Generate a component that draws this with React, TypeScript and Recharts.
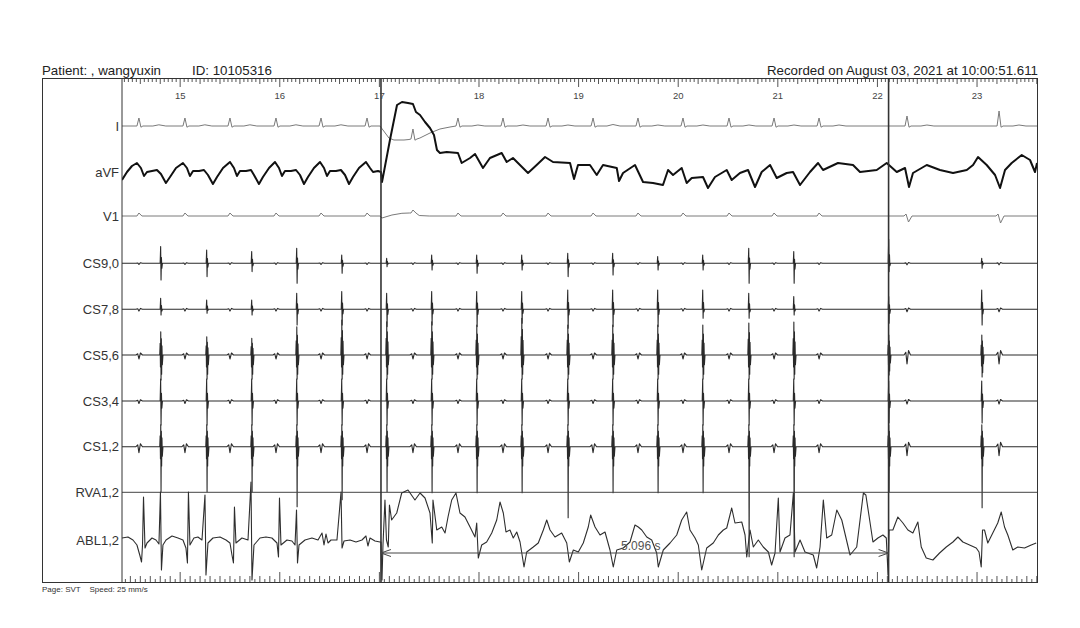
import { ComposedChart, Line, XAxis, YAxis, ReferenceLine, Label } from 'recharts';

// time window of the page (s)
const T0 = 14.416;
const T1 = 23.602;

const secondLabels = [15, 16, 17, 18, 19, 20, 21, 22, 23];

const channels = ['I', 'aVF', 'V1', 'CS9,0', 'CS7,8', 'CS5,6', 'CS3,4', 'CS1,2', 'RVA1,2', 'ABL1,2'];
const channelBase = [-4.8, -9.4, -13.8, -18.53, -23.13, -27.7, -32.3, -36.87, -41.43, -46.2];

// calipers (s)
const caliperStart = 17.016;
const caliperEnd = 22.112;
const caliperText = '5.096 s';

// ventricular beats (surface QRS) and CS atrial electrograms, seconds
const vBeats = [14.586, 15.048, 15.5, 15.962, 16.414, 16.876, 17.337, 17.789, 18.241, 18.693, 19.145, 19.596, 20.048, 20.51, 20.962, 21.414, 22.297, 23.221];
const aBeats = [14.807, 15.269, 15.721, 16.173, 16.625, 17.076, 17.528, 17.98, 18.432, 18.894, 19.345, 19.797, 20.249, 20.711, 21.163, 22.116, 23.05];

// lead I
const iAmp = [0.8, 0.8, 0.8, 0.8, 0.8, 0.8, 1.0, 0.8, 0.8, 0.8, 0.8, 0.8, 0.8, 0.8, 0.8, 0.8, 1.0, 1.5];
const iBase = [0, 0, 0, 0, 0, 0, -1.3, 0, 0, 0, 0, 0, 0, 0, 0, 0, 0, 0];
const iTwave = [0.12, 0.12, 0.12, 0.12, 0.12, 0, 0, 0.1, 0.1, 0.1, 0.15, 0.1, 0.1, 0.1, 0.1, 0.1, 0.1, 0.1];
const iDrift = [[T0, 0], [17.006, 0], [17.036, -0.4], [17.096, -1.2], [17.146, -1.4], [17.247, -1.4], [17.297, -1.35], [17.407, -1.2], [17.508, -0.7], [17.608, -0.3], [17.709, -0.1], [T1, 0]];

// V1
const v1Amp = [0.3, 0.3, 0.3, 0.3, 0.3, 0.3, 0.3, 0.3, 0.3, 0.3, 0.3, 0.3, 0.3, 0.3, 0.3, 0.3, -0.6, -0.7];
const v1Base = [0, 0, 0, 0, 0, 0, 0.3, 0, 0, 0, 0, 0, 0, 0, 0, 0, 0, 0];
const v1Drift = [[T0, 0], [17.006, 0], [17.026, -0.2], [17.126, 0.1], [17.226, 0.27], [17.3, 0.3], [17.4, 0.05], [17.5, 0], [T1, 0]];

// aVF, read point by point (t, mV)
const avfTrace = [
  [14.416, -0.8], [14.466, 0], [14.516, 0.6], [14.566, 0.9], [14.606, 0.4], [14.637, -0.4], [14.667, 0], [14.717, 0.1], [14.767, 0.2], [14.807, -0.2],
  [14.857, -1.1], [14.898, -0.5], [14.958, 0.4], [15.028, 0.9], [15.068, 0.4], [15.098, -0.4], [15.129, 0.1], [15.189, 0.1], [15.239, 0.2], [15.279, -0.3],
  [15.329, -1.2], [15.37, -0.5], [15.43, 0.4], [15.5, 1.0], [15.54, 0.4], [15.57, -0.4], [15.6, 0.1], [15.661, 0.1], [15.711, 0.2], [15.741, -0.3],
  [15.791, -1.2], [15.831, -0.5], [15.892, 0.4], [15.952, 1.0], [15.992, 0.4], [16.022, -0.4], [16.052, 0.1], [16.112, 0.1], [16.163, 0.2], [16.203, -0.3],
  [16.243, -1.2], [16.283, -0.5], [16.343, 0.4], [16.404, 1.0], [16.444, 0.4], [16.474, -0.4], [16.504, 0.1], [16.564, 0.1], [16.614, 0.2], [16.655, -0.3],
  [16.695, -1.2], [16.735, -0.5], [16.795, 0.4], [16.865, 1.0], [16.906, 0.4], [16.936, 0], [16.986, 0.1], [17.016, 0],
  [17.026, -1.0], [17.036, -0.5], [17.106, 3.2], [17.177, 6.7], [17.227, 7.0], [17.287, 6.9], [17.337, 6.8], [17.367, 6.0], [17.408, 5.7], [17.458, 5.0],
  [17.508, 4.4], [17.548, 3.7], [17.578, 2.2], [17.608, 1.9], [17.676, 2.0], [17.789, 1.9], [17.826, 0.9], [17.91, 1.4], [17.96, 1.8], [18.04, 0.4],
  [18.11, 1.4], [18.228, 1.9], [18.278, 1.0], [18.341, 1.4], [18.492, -0.1], [18.579, 0.7], [18.663, 1.5], [18.743, 1.0], [18.914, 0.9], [18.954, -0.7],
  [18.994, 0.7], [19.114, 0.7], [19.182, -0.3], [19.245, 0.7], [19.383, 0.4], [19.406, -0.9], [19.446, -0.1], [19.566, 0.7], [19.647, -1.0], [19.747, -1.1],
  [19.847, -1.3], [19.898, 0.2], [19.948, -0.3], [20.035, 0.4], [20.085, -1.1], [20.136, -0.6], [20.249, -0.5], [20.299, -1.6], [20.369, -0.5], [20.487, 0.2],
  [20.537, -0.8], [20.62, -0.1], [20.701, 0.2], [20.771, -1.5], [20.838, 0], [20.922, 0.7], [20.989, -0.6], [21.089, -0.1], [21.153, 0], [21.223, -1.3],
  [21.323, 0], [21.404, 0.9], [21.454, 0.2], [21.604, 0.9], [21.755, 0.7], [21.825, 0], [21.993, 0.2], [22.093, 0.9], [22.194, 0], [22.277, 0.4],
  [22.317, -1.5], [22.357, -0.1], [22.495, 0.7], [22.628, 0.2], [22.759, -0.1], [22.897, 0.2], [22.96, 0.7], [23.01, 1.5], [23.097, 0.7], [23.181, -0.3],
  [23.231, -1.6], [23.281, 0.2], [23.348, 0.9], [23.449, 1.7], [23.532, 1.2], [23.582, 0], [23.602, 0.9],
];

// coronary sinus bipoles: spike up / down (mV) per atrial beat, far-field per ventricular beat
const cs90Up = [1.67, 1.33, 1.17, 1.5, 0.83, 0.5, 0.83, 0.83, 0.83, 1.0, 1.0, 0.67, 0.83, 1.5, 1.17, 2.4, 0.5];
const cs90Down = [1.67, 1.33, 0.83, 2.0, 1.0, 0.33, 0.67, 1.0, 0.67, 1.33, 1.17, 0.67, 0.67, 2.0, 2.0, 0.83, 0.5];
const cs90Far = [0.12, 0.12, 0.12, 0.12, 0.12, 0.12, 0.12, 0.12, 0.12, 0.12, 0.12, 0.12, 0.12, 0.12, 0.12, 0.12, 0.15, 0.15];

const cs78Up = [1.1, 0.93, 0.93, 1.6, 1.77, 1.6, 1.77, 1.77, 1.77, 1.93, 1.93, 1.93, 1.93, 1.6, 1.27, 1.27, 1.93];
const cs78Down = [0.57, 0.4, 0.57, 1.57, 1.57, 1.73, 1.57, 1.73, 1.4, 1.9, 1.73, 1.73, 0.9, 0.9, 0.57, 1.4, 1.57];
const cs78Far = [0.18, 0.18, 0.18, 0.18, 0.18, 0.18, 0.18, 0.18, 0.18, 0.18, 0.18, 0.18, 0.18, 0.18, 0.18, 0.18, 0.25, 0.25];

const cs56Up = [2.33, 1.83, 1.67, 2.83, 3.5, 3.33, 3.33, 3.0, 3.67, 3.0, 3.0, 3.0, 3.0, 3.2, 3.3, 2.0, 2.0];
const cs56Down = [2.5, 2.4, 2.4, 2.4, 2.4, 2.4, 2.4, 2.4, 2.4, 2.4, 2.4, 2.4, 2.4, 2.4, 2.4, 2.0, 2.2];
const cs56Far = [0.4, 0.4, 0.4, 0.4, 0.4, 0.4, 0.4, 0.4, 0.4, 0.4, 0.4, 0.4, 0.4, 0.4, 0.4, 0.4, 0.9, 0.9];

const cs34Up = [2.2, 2.2, 2.2, 2.2, 2.2, 2.2, 2.2, 2.2, 2.2, 2.2, 2.2, 2.2, 2.2, 2.2, 2.2, 2.0, 2.0];
const cs34Down = [2.4, 2.4, 2.4, 2.4, 2.4, 2.4, 2.4, 2.4, 2.4, 2.4, 2.4, 2.4, 2.4, 2.4, 2.4, 2.2, 2.2];
const cs34Far = [0.25, 0.25, 0.25, 0.25, 0.25, 0.25, 0.25, 0.25, 0.25, 0.25, 0.25, 0.25, 0.25, 0.25, 0.25, 0.25, 0.3, 0.3];

const cs12Up = [2.2, 2.2, 2.2, 2.2, 2.2, 2.2, 2.2, 2.2, 2.2, 2.2, 2.2, 2.2, 2.2, 2.2, 2.2, 2.2, 2.2];
const cs12Down = [4.5, 4.5, 4.5, 6.0, 5.3, 4.5, 4.6, 4.6, 4.6, 7.1, 4.6, 4.6, 4.6, 11.0, 11.0, 4.5, 6.1];
const cs12Far = [0.6, 0.6, 0.6, 0.6, 0.6, 0.6, 0.6, 0.6, 0.6, 0.6, 0.6, 0.6, 0.6, 0.6, 0.6, 0.6, 0.9, 0.9];

// ablation catheter, read point by point (t, mV)
const ablTrace = [
  [14.416, 0.2], [14.476, 0.3], [14.526, 0], [14.566, -0.5], [14.597, -1.6], [14.612, -2.2], [14.622, -0.5], [14.632, 4.3], [14.647, -0.8], [14.667, -0.3],
  [14.717, 0.2], [14.757, 0], [14.787, -0.4], [14.802, 4.8], [14.812, -3.0], [14.827, -0.5], [14.858, 0], [14.918, 0.4], [14.978, 0.2], [15.028, 0],
  [15.058, -0.8], [15.073, -2.3], [15.083, 4.8], [15.098, -0.5], [15.138, 0.2], [15.178, 0.3], [15.219, 0], [15.249, 4.5], [15.259, -3.5], [15.279, -0.3],
  [15.329, 0.2], [15.4, 0.3], [15.46, 0], [15.5, -0.3], [15.52, -1.5], [15.535, -2.3], [15.545, 3.3], [15.56, -0.3], [15.62, 0.2], [15.681, 0],
  [15.711, 5.8], [15.721, -4.0], [15.741, -0.5], [15.801, 0.2], [15.861, 0.3], [15.921, 0.2], [15.972, -0.3], [15.987, -1.7], [15.997, 4.2], [16.012, -0.5],
  [16.072, 0], [16.122, -0.1], [16.153, -0.5], [16.168, 3.0], [16.178, -2.3], [16.193, -0.5], [16.253, 0], [16.323, 0.2], [16.384, 0], [16.424, 0.7],
  [16.444, -0.5], [16.464, 0.6], [16.484, -0.3], [16.514, 0], [16.574, 0], [16.615, 4.8], [16.625, -0.8], [16.645, -0.1], [16.705, 0], [16.765, -0.2],
  [16.825, 0], [16.865, 0.4], [16.885, -0.6], [16.906, 0.2], [16.956, -0.1], [17.006, -0.2],
  [17.016, -0.2], [17.026, -4.0], [17.036, -0.5], [17.056, 4.0], [17.071, 0], [17.089, -0.7], [17.101, 3.5], [17.123, 2.0], [17.174, 2.7], [17.224, 4.7],
  [17.287, 5.0], [17.357, 4.0], [17.408, 4.7], [17.458, 4.2], [17.508, 2.7], [17.531, -0.3], [17.538, 4.0], [17.576, 1.0], [17.626, 1.3], [17.659, 0.7],
  [17.689, 2.3], [17.726, 4.0], [17.769, 4.7], [17.809, 2.7], [17.859, 2.3], [17.91, 1.3], [17.96, 0.3], [17.977, 1.7], [17.993, -1.8], [18.027, -0.5],
  [18.077, -0.2], [18.128, 0.7], [18.178, 2.0], [18.211, 3.8], [18.244, 2.7], [18.271, 0.8], [18.311, 1.0], [18.344, 0.2], [18.379, 0.8], [18.412, -0.2],
  [18.452, -2.7], [18.479, -1.2], [18.545, -0.7], [18.595, -0.3], [18.646, 1.0], [18.68, 2.0], [18.713, 1.0], [18.763, 0.3], [18.83, 0.7], [18.881, -0.3],
  [18.907, -2.2], [18.947, -1.0], [18.997, -1.2], [19.047, -0.3], [19.097, 1.3], [19.121, 2.5], [19.165, 1.3], [19.215, 0.5], [19.265, 0.8], [19.315, -1.0],
  [19.348, -2.7], [19.383, -1.0], [19.449, -0.8], [19.516, -0.2], [19.566, 1.5], [19.599, 1.3], [19.634, 1.0], [19.684, 0.3], [19.734, 0], [19.784, -1.3],
  [19.8, -2.7], [19.85, -1.0], [19.918, -0.3], [19.985, 0.5], [20.035, 2.0], [20.085, 2.8], [20.118, 1.0], [20.169, 0.2], [20.202, -0.5], [20.236, -3.0],
  [20.286, -0.8], [20.352, -0.3], [20.403, 0.5], [20.453, 1.0], [20.487, 1.2], [20.537, 3.2], [20.57, 1.7], [20.638, 1.8], [20.671, 0.5], [20.688, -1.7],
  [20.721, 1.0], [20.754, -0.7], [20.804, 0], [20.854, -0.7], [20.905, -1.2], [20.938, -2.5], [20.972, -1.3], [21.005, 4.2], [21.022, -1.2], [21.072, 0.2],
  [21.122, 0.5], [21.156, 4.7], [21.173, -1.2], [21.223, 0], [21.273, -1.2], [21.356, -1.5], [21.39, -2.8], [21.424, -0.7], [21.457, 4.0], [21.491, 0.2],
  [21.541, 0.5], [21.592, 3.0], [21.642, 2.0], [21.725, -1.5], [21.792, -0.7], [21.859, 4.7], [21.884, 4.5], [21.922, 2.0], [21.955, -0.2], [22.005, 0.2],
  [22.055, 0.5], [22.089, 0.2], [22.107, -3.5], [22.117, 1.0], [22.155, 1.0], [22.205, 2.3], [22.256, 1.7], [22.306, 1.0], [22.356, 0.7], [22.406, 1.8],
  [22.44, -0.7], [22.49, -1.8], [22.557, -2.0], [22.624, -1.3], [22.691, -0.7], [22.758, -0.2], [22.808, 0.3], [22.858, -0.2], [22.925, -0.5], [22.992, -0.8],
  [23.02, -1.2], [23.042, -2.7], [23.055, 1.0], [23.075, 1.0], [23.108, -0.3], [23.158, 0.7], [23.208, 1.7], [23.243, 2.8], [23.276, 1.3], [23.309, 0.5],
  [23.359, -1.0], [23.409, -0.7], [23.477, -0.8], [23.544, -0.5], [23.594, -0.3],
];

const PLOT_TOP = 78;
const PLOT_BOTTOM = 582;

type Pt = { t: number; v: number };

const toSeries = (pts: number[][], base: number): Pt[] =>
  pts
    .slice()
    .sort((a, b) => a[0] - b[0])
    .map(([t, v]) => ({ t, v: base + v }));

function leadI(): number[][] {
  const pts: number[][] = [...iDrift];
  vBeats.forEach((t, i) => {
    const b = iBase[i];
    pts.push([t - 0.02, b], [t, b + iAmp[i]], [t + 0.02, b - 0.12], [t + 0.04, b]);
    if (iTwave[i]) pts.push([t + 0.14, b], [t + 0.2, b + iTwave[i]], [t + 0.27, b]);
  });
  return pts;
}

function leadV1(): number[][] {
  const pts: number[][] = [...v1Drift];
  vBeats.forEach((t, i) => {
    const b = v1Base[i];
    const a = v1Amp[i];
    if (a >= 0) pts.push([t - 0.02, b], [t, b + a], [t + 0.03, b]);
    else pts.push([t - 0.03, b], [t - 0.01, b + 0.2], [t + 0.015, b + a], [t + 0.05, b]);
  });
  return pts;
}

function csLead(up: number[], down: number[], far: number[], thick: boolean): number[][] {
  const pts: number[][] = [[T0, 0], [T1, 0]];
  aBeats.forEach((t, i) => {
    const u = up[i];
    const d = down[i];
    if (thick) {
      const c = Math.min(d, 2.4);
      pts.push(
        [t - 0.012, 0], [t - 0.008, u * 0.5], [t - 0.005, -c * 0.5], [t - 0.002, u], [t + 0.001, -d],
        [t + 0.004, u * 0.7], [t + 0.007, -c * 0.8], [t + 0.01, u * 0.4], [t + 0.014, -c * 0.4], [t + 0.02, 0],
      );
    } else {
      pts.push([t - 0.008, 0], [t - 0.003, u], [t + 0.001, -d], [t + 0.005, u * 0.35], [t + 0.009, -d * 0.3], [t + 0.015, 0]);
    }
  });
  vBeats.forEach((t, i) => {
    const a = far[i];
    pts.push([t - 0.03, 0], [t - 0.012, a * 0.3], [t, -a], [t + 0.015, a * 0.5], [t + 0.035, 0]);
  });
  return pts;
}

const series = [
  { name: 'I', data: toSeries(leadI(), channelBase[0]), color: '#7a7a7a', width: 1 },
  { name: 'aVF', data: toSeries(avfTrace, channelBase[1]), color: '#111', width: 2 },
  { name: 'V1', data: toSeries(leadV1(), channelBase[2]), color: '#7a7a7a', width: 1 },
  { name: 'CS9,0', data: toSeries(csLead(cs90Up, cs90Down, cs90Far, false), channelBase[3]), color: '#2a2a2a', width: 1.1 },
  { name: 'CS7,8', data: toSeries(csLead(cs78Up, cs78Down, cs78Far, false), channelBase[4]), color: '#2a2a2a', width: 1.1 },
  { name: 'CS5,6', data: toSeries(csLead(cs56Up, cs56Down, cs56Far, true), channelBase[5]), color: '#2a2a2a', width: 1.1 },
  { name: 'CS3,4', data: toSeries(csLead(cs34Up, cs34Down, cs34Far, false), channelBase[6]), color: '#2a2a2a', width: 1.1 },
  { name: 'CS1,2', data: toSeries(csLead(cs12Up, cs12Down, cs12Far, true), channelBase[7]), color: '#2a2a2a', width: 1.1 },
  { name: 'RVA1,2', data: toSeries([[T0, 0], [T1, 0]], channelBase[8]), color: '#444', width: 1 },
  { name: 'ABL1,2', data: toSeries(ablTrace, channelBase[9]), color: '#2e2e2e', width: 1.1 },
];

// caliper sits just under the ABL baseline
const caliperY = channelBase[9] - 1.3;
const arrowLeft = [
  { t: caliperStart + 0.1, v: caliperY + 0.35 },
  { t: caliperStart, v: caliperY },
  { t: caliperStart + 0.1, v: caliperY - 0.35 },
];
const arrowRight = [
  { t: caliperEnd - 0.1, v: caliperY + 0.35 },
  { t: caliperEnd, v: caliperY },
  { t: caliperEnd - 0.1, v: caliperY - 0.35 },
];

const topTicks = Array.from({ length: 230 }, (_, i) => Math.round((14.44 + i * 0.04) * 1000) / 1000);
const bottomTicks = Array.from({ length: 184 }, (_, i) => Math.round((14.45 + i * 0.05) * 1000) / 1000);

const font = 'Liberation Sans, Arial, Helvetica, sans-serif';

const TopTick = (props: any) => {
  const { x, payload } = props;
  const ms = Math.round(payload.value * 1000);
  const sec = ms % 1000 === 0;
  const len = sec ? 9 : ms % 200 === 0 ? 6 : 4;
  return (
    <g>
      <line x1={x} x2={x} y1={PLOT_TOP} y2={PLOT_TOP + len} stroke="#555" strokeWidth={1} />
      {sec && secondLabels.includes(ms / 1000) && (
        <text x={x} y={PLOT_TOP + 21} textAnchor="middle" fontSize={9.5} fill="#444" fontFamily={font}>
          {ms / 1000}
        </text>
      )}
    </g>
  );
};

const BottomTick = (props: any) => {
  const { x, payload } = props;
  const ms = Math.round(payload.value * 1000);
  const len = ms % 1000 === 0 ? 10 : ms % 100 === 0 ? 6 : 3;
  return <line x1={x} x2={x} y1={PLOT_BOTTOM} y2={PLOT_BOTTOM - len} stroke="#555" strokeWidth={1} />;
};

export default function App() {
  return (
    <div style={{ position: 'absolute', left: 0, top: 0, width: 1080, height: 628, background: '#fff', fontFamily: font }}>
      <div style={{ position: 'absolute', left: 42, top: 63, fontSize: 13.3, color: '#222', lineHeight: '15px' }}>Patient: , wangyuxin</div>
      <div style={{ position: 'absolute', left: 192, top: 63, fontSize: 13.3, color: '#222', lineHeight: '15px' }}>ID: 10105316</div>
      <div style={{ position: 'absolute', right: 1080 - 1038, top: 63, fontSize: 13.3, color: '#222', lineHeight: '15px' }}>
        Recorded on August 03, 2021 at 10:00:51.611
      </div>
      <div style={{ position: 'absolute', left: 42, top: 585, fontSize: 8, color: '#333', whiteSpace: 'pre', lineHeight: '10px' }}>
        {'Page: SVT    Speed: 25 mm/s'}
      </div>
      <ComposedChart width={1080} height={628} margin={{ top: 48, right: 43, bottom: 16, left: 42 }}>
        <XAxis
          xAxisId="top"
          orientation="top"
          type="number"
          dataKey="t"
          domain={[T0, T1]}
          allowDataOverflow
          ticks={topTicks}
          interval={0}
          height={30}
          axisLine={false}
          tickLine={false}
          tick={<TopTick />}
        />
        <XAxis
          xAxisId="bottom"
          orientation="bottom"
          type="number"
          dataKey="t"
          domain={[T0, T1]}
          allowDataOverflow
          ticks={bottomTicks}
          interval={0}
          height={30}
          axisLine={false}
          tickLine={false}
          tick={<BottomTick />}
        />
        <YAxis
          type="number"
          domain={[-50.4, 0]}
          allowDataOverflow
          ticks={channelBase}
          interval={0}
          width={80}
          tickSize={0}
          tickMargin={3}
          axisLine={{ stroke: '#333', strokeWidth: 1 }}
          tickLine={false}
          tick={{ fontSize: 13, fill: '#333', fontFamily: font }}
          tickFormatter={(v: number) => channels[channelBase.indexOf(v)] ?? ''}
        />
        {series.map((s) => (
          <Line
            key={s.name}
            xAxisId="bottom"
            data={s.data}
            dataKey="v"
            type="linear"
            stroke={s.color}
            strokeWidth={s.width}
            strokeLinejoin="round"
            dot={false}
            activeDot={false}
            isAnimationActive={false}
          />
        ))}
        <ReferenceLine xAxisId="bottom" x={caliperStart} stroke="#333" strokeWidth={1.6} />
        <ReferenceLine xAxisId="bottom" x={caliperEnd} stroke="#333" strokeWidth={1.6} />
        <ReferenceLine
          xAxisId="bottom"
          segment={[{ x: caliperStart, y: caliperY }, { x: caliperEnd, y: caliperY }]}
          stroke="#444"
          strokeWidth={1}
        >
          <Label value={caliperText} position="center" dx={6} dy={-7} fontSize={12} fill="#555" fontFamily={font} />
        </ReferenceLine>
        <Line xAxisId="bottom" data={arrowLeft} dataKey="v" stroke="#444" strokeWidth={1} dot={false} activeDot={false} isAnimationActive={false} />
        <Line xAxisId="bottom" data={arrowRight} dataKey="v" stroke="#444" strokeWidth={1} dot={false} activeDot={false} isAnimationActive={false} />
      </ComposedChart>
      <div
        style={{
          position: 'absolute',
          left: 42,
          top: 78,
          width: 996,
          height: 505,
          border: '1px solid #333',
          boxSizing: 'border-box',
          pointerEvents: 'none',
        }}
      />
    </div>
  );
}
